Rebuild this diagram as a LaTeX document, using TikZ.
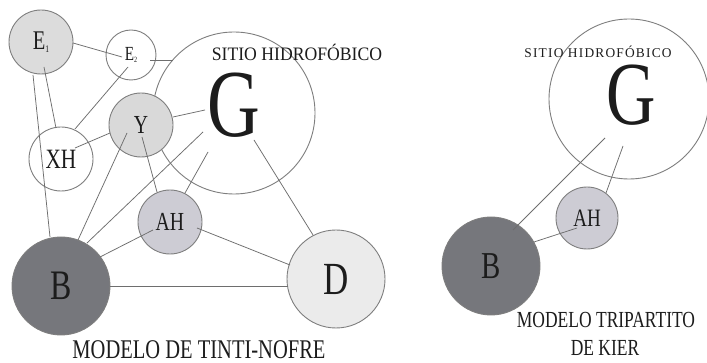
\documentclass[tikz,border=0pt]{standalone}
\usepackage{fontspec}
\setmainfont[FakeStretch=0.76]{Liberation Serif}
\newfontfamily\sitiofont[FakeStretch=0.93]{Liberation Serif}
\newfontfamily\sitiospaced[LetterSpace=9]{Liberation Serif}
\usetikzlibrary{calc}
\definecolor{ringc}{HTML}{7E7E7E}
\definecolor{linkc}{HTML}{6E6E6E}
\definecolor{inkc}{HTML}{1C1C1C}
\definecolor{fillE}{HTML}{DCDCDC}
\definecolor{fillY}{HTML}{D9D9D9}
\definecolor{fillAH}{HTML}{CDCCD4}
\definecolor{fillB}{HTML}{76777C}
\definecolor{fillD}{HTML}{EBEBEB}
\tikzset{
  ring/.style={circle, draw=ringc, line width=0.9pt, inner sep=0pt, text=inkc, fill=white},
  link/.style={draw=linkc, line width=0.75pt},
  caption/.style={text=inkc, inner sep=0pt},
  fs/.style={font=\fontsize{#1}{#1}\selectfont}
}
\newcommand{\sub}[2]{E\raisebox{-0.25ex}{\fontsize{#1}{#1}\selectfont #2}}
\begin{document}
\begin{tikzpicture}[x=1pt,y=1pt]
\useasboundingbox[fill=white] (0,0) rectangle (707,-363);

% ---- Tinti-Nofre model ----
\node[ring, minimum size=162] (Gl) at (234,-113) {};
\node[ring, minimum size=64, fill=fillE, fs=27] (E1) at (41,-42) {\sub{10}{1}};
\node[ring, minimum size=50, fs=20] (E2) at (131,-55) {\sub{8}{2}};
\node[ring, minimum size=64, fill=fillY, fs=26] (Y) at (141,-125) {Y};
\node[ring, minimum size=64, fs=28] (XH) at (61,-159) {XH};
\node[ring, minimum size=64, fill=fillAH, fs=26] (AH) at (170,-222) {AH};
\node[ring, minimum size=98, fill=fillB, fs=42] (B) at (61,-286) {B};
\node[ring, minimum size=98, fill=fillD, fs=46] (D) at (336,-279) {D};
\node[caption, fs=96] (Gtl) at (234,-105) {G};
\node[caption, font=\sitiofont\fontsize{19}{19}\selectfont] (Sl) at (297,-52) {SITIO HIDROFÓBICO};
\node[caption, fs=27] (Tl) at (199,-349.5) {MODELO DE TINTI-NOFRE};

\draw[link] ($(E1)+(32,-1)$) -- ($(E2)+(-9,-2)$);
\draw[link] ($(E2)+(19,-5)$) -- ($(Gl)+(-61,53)$);
\draw[link] ($(E2)+(-3,-12)$) -- ($(XH)+(14,30)$);
\draw[link] ($(E1)+(3,-25)$) -- ($(XH)+(-5,31)$);
\draw[link] ($(E1)+(-8,-33)$) -- ($(B)+(-11,49)$);
\draw[link] ($(XH)+(14,11)$) -- ($(Y)+(-31,-8)$);
\draw[link] ($(Y)+(32,8)$) -- ($(Gl)+(-29,3)$);
\draw[link] ($(Y)+(-14,-8)$) -- ($(B)+(17,46)$);
\draw[link] ($(Y)+(1,-12)$) -- ($(AH)+(-13,30)$);
\draw[link] ($(Gl)+(-31,-19)$) -- ($(B)+(26,43)$);
\draw[link] ($(Gl)+(-26,-39)$) -- ($(AH)+(15,29)$);
\draw[link] ($(Gl)+(20,-27)$) -- ($(D)+(-23,44)$);
\draw[link] ($(AH)+(-17,-8)$) -- ($(B)+(39,29)$);
\draw[link] ($(AH)+(27,-6)$) -- ($(D)+(-46,14)$);
\draw[link] ($(B)+(49,0)$) -- ($(D)+(-48,-7)$);

% ---- Kier tripartite model ----
\node[ring, minimum size=160, fill=none] (Gr) at (629,-99) {};
\node[ring, minimum size=62, fill=fillAH, fs=25] (AHr) at (587,-218) {AH};
\node[ring, minimum size=98, fill=fillB, fs=38] (Br) at (491,-266) {B};
\node[caption, fs=90] (Gtr) at (631,-95) {G};
\node[caption, font=\sitiospaced\fontsize{13.4}{13.4}\selectfont] (Sr) at (598,-52) {SITIO HIDROFÓBICO};
\node[caption, fs=23] (Tr1) at (606,-320) {MODELO TRIPARTITO};
\node[caption, fs=23] (Tr2) at (605,-348) {DE KIER};

\draw[link] ($(Gr)+(-24,-39)$) -- ($(Br)+(22,36)$);
\draw[link] ($(Gr)+(-6,-47)$) -- ($(AHr)+(19,25)$);
\draw[link] ($(Br)+(43,24)$) -- ($(AHr)+(-10,-10)$);
\end{tikzpicture}
\end{document}
